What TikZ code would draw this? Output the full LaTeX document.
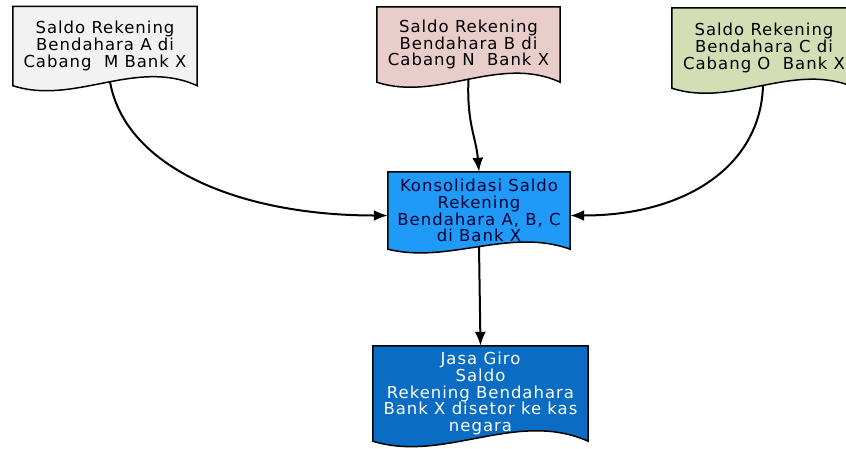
\documentclass[tikz,border=0pt]{standalone}
\usepackage{fontspec}
\setmainfont{DejaVu Sans}
\newfontfamily\docfont[LetterSpace=6]{DejaVu Sans}
\usepackage{tikz}
\usepackage{xcolor}
\usetikzlibrary{arrows.meta,calc}

\definecolor{docA}{HTML}{F2F2F2}
\definecolor{docB}{HTML}{E9CDCB}
\definecolor{docC}{HTML}{D3DEB4}
\definecolor{docK}{HTML}{1F9BF7}
\definecolor{docJ}{HTML}{0A6CC2}

\pgfdeclarelayer{background}
\pgfsetlayers{background,main}

% document outline with a wavy bottom edge
\newcommand{\docshape}[4]{%
  \draw[docline, fill=#2] (#1.north west) -- (#1.north east) -- (#1.south east)
    .. controls ($(#1.south east)!1/3!(#1.south west)+(0,-#4)$)
    and ($(#1.south west)!1/3!(#1.south east)+(0,#3)$) .. (#1.south west) -- cycle;}

\begin{document}
\begin{tikzpicture}[x=1pt, y=-1pt,
    doc/.style = {inner sep=0pt, align=center, font=\docfont\fontsize{16.5}{16.8}\selectfont},
    docline/.style = {draw=black, line width=1.5pt},
    conn/.style = {line width=2pt, -{Latex[length=14pt,width=11pt]}}]
      \useasboundingbox (0,0) rectangle (846,448);
      \clip (0,0) rectangle (846,448);

      \node[doc, minimum width=184pt, minimum height=79pt] (d_a) at (105,46) {Saldo Rekening\\Bendahara A di\\Cabang\ \ M Bank X};
      \node[doc, minimum width=183pt, minimum height=75pt] (d_b) at (468.5,44.5) {Saldo Rekening\\Bendahara B di\\Cabang N\ \ Bank X};
      \node[doc, minimum width=184pt, minimum height=80pt] (d_c) at (764,48) {Saldo Rekening\\Bendahara C di\\Cabang O\ \ Bank X};
      \node[doc, minimum width=182pt, minimum height=77pt, text=black!80!blue] (d_k) at (479,210.5) {Konsolidasi Saldo\\Rekening\\Bendahara A, B, C\\di Bank X};
      \node[doc, minimum width=215pt, minimum height=95pt, text=white] (d_j) at (480.5,393.5) {Jasa Giro\\Saldo\\Rekening Bendahara\\Bank X disetor ke kas\\negara};

      \begin{pgfonlayer}{background}
      \draw[conn] ([xshift=5pt,yshift=4pt]d_a.south) .. controls +(15,85) and +(-150,0) .. ([yshift=-5pt]d_k.west);
      \draw[conn] ([xshift=-1pt,yshift=6pt]d_c.south) .. controls +(0,80) and +(120,0) .. ([yshift=-5pt]d_k.east);
      \draw[conn] ([yshift=4pt]d_b.south) .. controls +(-2,45) and +(-3,-35) .. (d_k.north);
      \draw[conn] ([yshift=3pt]d_k.south) -- (d_j.north);

      \docshape{d_a}{docA}{20}{28}
      \docshape{d_b}{docB}{20}{28}
      \docshape{d_c}{docC}{20}{28}
      \docshape{d_k}{docK}{15}{22}
      \docshape{d_j}{docJ}{22}{32}
      \end{pgfonlayer}
\end{tikzpicture}
\end{document}
